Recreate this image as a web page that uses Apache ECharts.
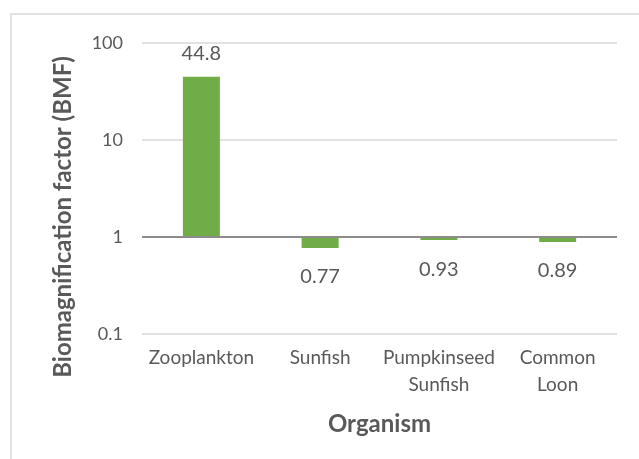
<!DOCTYPE html>
<html>
<head>
<meta charset="utf-8">
<script src="https://cdn.jsdelivr.net/npm/echarts@6/dist/echarts.min.js"></script>
<style>
html,body{margin:0;padding:0;background:#fff;}
#chart{width:639px;height:459px;}
</style>
</head>
<body>
<div id="chart"></div>
<script>
const categories = ['Zooplankton', 'Sunfish', 'Pumpkinseed\nSunfish', 'Common\nLoon'];
const bmfValues = [44.8, 0.77, 0.93, 0.89];
const valueLabels = ['44.8', '0.77', '0.93', '0.89'];
const yTickLabels = ['0.1', '1', '10', '100'];
const xTitle = 'Organism';
const yTitle = 'Biomagnification factor (BMF)';

const FONT = 'Lato';
const TEXT = '#595959';

const chart = echarts.init(document.getElementById('chart'));
chart.setOption({
  animation: false,
  backgroundColor: '#ffffff',
  graphic: [
    {
      type: 'rect', z: -10, silent: true,
      shape: { x: 11, y: 14, width: 700, height: 500 },
      style: { fill: 'none', stroke: '#d9d9d9', lineWidth: 1.5 }
    },
    {
      type: 'text', x: 63, y: 217, rotation: Math.PI / 2,
      style: {
        text: yTitle, fill: TEXT, align: 'center', verticalAlign: 'middle',
        font: 'bold 24px Lato'
      }
    }
  ],
  grid: { left: 142, right: 22, top: 43, bottom: 125, containLabel: false },
  xAxis: {
    type: 'category',
    data: categories,
    axisLine: { show: false },
    axisTick: { show: false },
    axisLabel: {
      color: TEXT, fontFamily: FONT, fontSize: 19, lineHeight: 27, margin: 10, interval: 0
    },
    name: xTitle,
    nameLocation: 'middle',
    nameGap: 78,
    nameTextStyle: { color: TEXT, fontFamily: FONT, fontSize: 24, fontWeight: 'bold' }
  },
  yAxis: {
    type: 'log',
    logBase: 10,
    min: 0.1,
    max: 100,
    axisLine: { show: false },
    axisTick: { show: false },
    axisLabel: {
      color: TEXT, fontFamily: FONT, fontSize: 18, margin: 19,
      formatter: function (v) {
        const s = String(+v.toPrecision(6));
        return yTickLabels.indexOf(s) >= 0 ? s : '';
      }
    },
    splitLine: { lineStyle: { color: '#d9d9d9', width: 1.5 } }
  },
  series: [{
    type: 'bar',
    barWidth: 37,
    itemStyle: { color: '#70ad47' },
    data: bmfValues.map(function (v, i) {
      return {
        value: v,
        label: {
          show: true,
          position: v >= 1 ? 'top' : 'bottom',
          distance: v >= 1 ? 13 : 19,
          formatter: valueLabels[i],
          color: TEXT, fontFamily: FONT, fontSize: 20
        }
      };
    }),
    markLine: {
      silent: true,
      symbol: 'none',
      label: { show: false },
      lineStyle: { color: '#8c8c8c', width: 2, type: 'solid' },
      data: [{ yAxis: 1 }]
    }
  }]
});
</script>
</body>
</html>
